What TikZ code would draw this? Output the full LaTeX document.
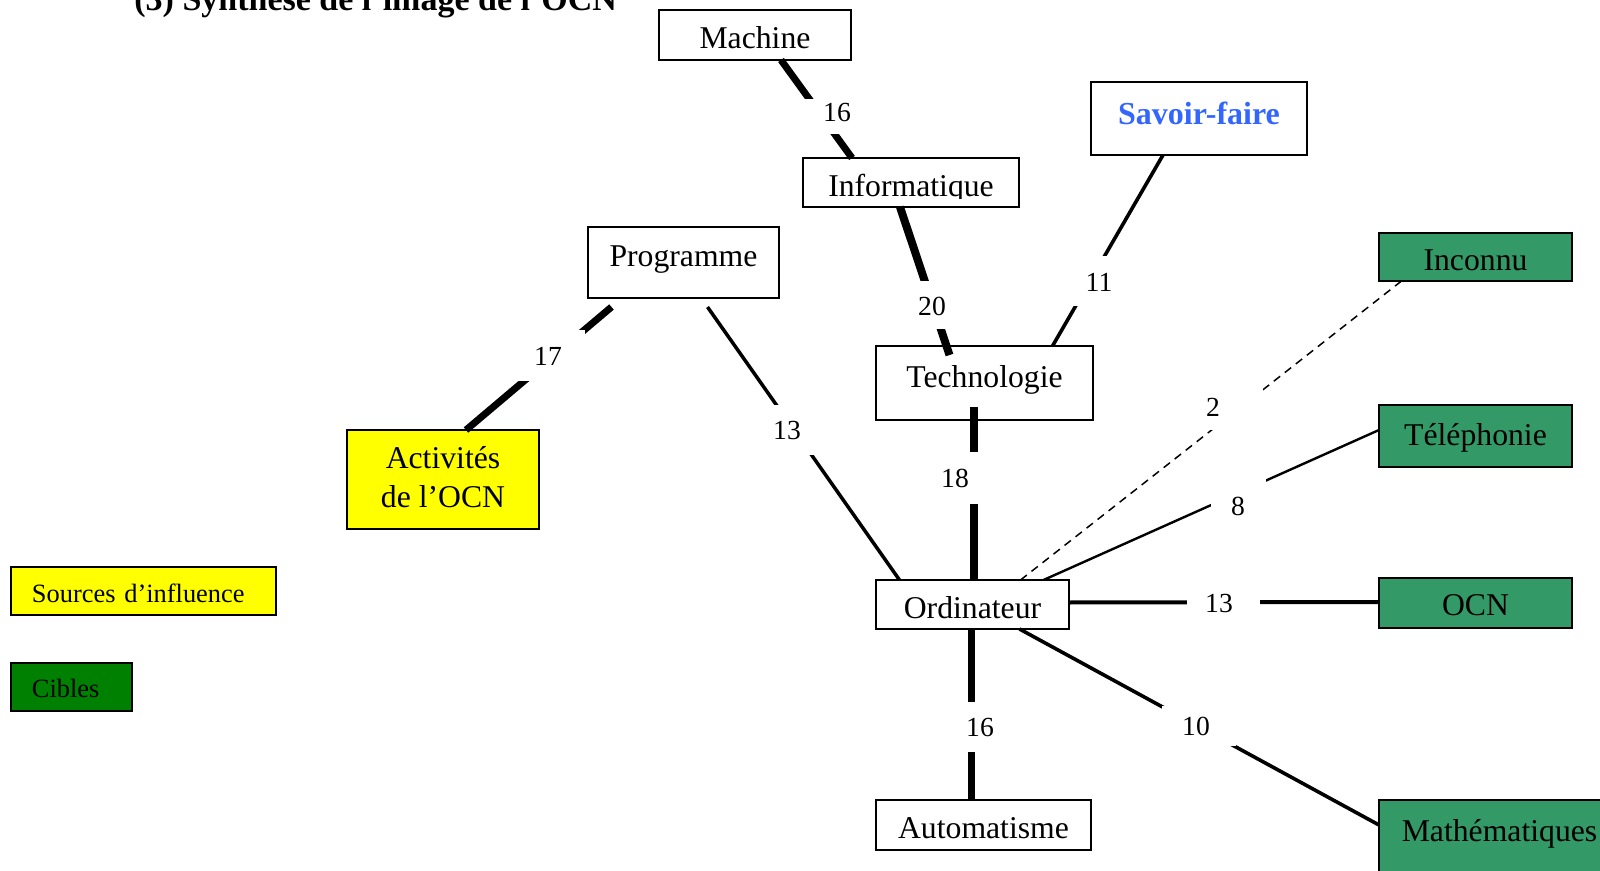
\documentclass[tikz,border=0pt]{standalone}
\usepackage{fontspec}
\setmainfont{Liberation Serif}
\usetikzlibrary{calc}
\definecolor{cgreen}{HTML}{339966}
\definecolor{lgreen}{HTML}{008000}
\definecolor{cyellow}{HTML}{FFFF00}
\definecolor{cblue}{HTML}{3366FF}
\newcommand\nodefont{\fontsize{15.85}{19.5}\selectfont}
\newcommand\numfont{\fontsize{13.8}{16}\selectfont}
\newcommand\legfont{\fontsize{13.2}{15}\selectfont}
\begin{document}
\begin{tikzpicture}[x=0.5pt,y=-0.5pt,
  box/.style={draw=black, line width=0.8pt, fill=white, inner sep=0pt, outer sep=0pt, anchor=north, font=\nodefont},
  target/.style={box, fill=cgreen},
  legend/.style={draw=black, line width=0.8pt, inner ysep=0pt, inner xsep=10.5pt, outer sep=0pt, anchor=north west, align=left, font=\legfont},
  gap/.style={fill=white, inner sep=0pt, font=\numfont},
  w20/.style={line width=4pt},
  w18/.style={line width=3.7pt},
  w17/.style={line width=3.5pt},
  w16/.style={line width=3.5pt},
  w13/.style={line width=1.9pt},
  w11/.style={line width=1.8pt},
  w10/.style={line width=1.8pt},
  w8/.style={line width=1.2pt},
  w2/.style={line width=0.75pt, dash pattern=on 4pt off 3pt}
]
\useasboundingbox (0,0) rectangle (1600,871);

% title (cut by the top edge)
\node[anchor=base west, inner sep=0pt, font=\fontsize{17}{20}\selectfont\bfseries] (title) at (134,11) {(3) Synthèse de l’image de l’OCN};

% boxes
\node[box, minimum width=96pt, text height=19.5pt, text depth=5.5pt] (mach) at (755,10) {Machine};
\node[box, minimum width=108pt, minimum height=24.5pt] (info) at (911,158) {};
\begin{scope}
  \clip (info.north west) rectangle ($(info.south east)+(0,-8)$);
  \node[anchor=base, inner sep=0pt, font=\nodefont] (infot) at (911,197) {Informatique};
\end{scope}
\node[box, minimum width=108pt, text height=21.5pt, text depth=15pt, font=\fontsize{16}{19}\selectfont\bfseries, text=cblue] (sav) at (1199,82) {Savoir-faire};
\node[box, minimum width=95.5pt, text height=20pt, text depth=15.5pt] (prog) at (683.5,227) {Programme};
\node[box, fill=cyellow, minimum width=96pt, text height=38.5pt, text depth=11pt] (act) at (443,430) {\begin{tabular}[b]{@{}c@{}}Activités\\de l’OCN\end{tabular}};
\node[box, minimum width=108.5pt, text height=20.5pt, text depth=16.5pt] (tech) at (984.5,346) {Technologie};
\node[box, minimum width=96.5pt, text height=19pt, text depth=5.5pt] (ordi) at (972.5,580) {Ordinateur};
\node[box, minimum width=107.5pt, minimum height=25pt] (auto) at (983.5,800) {};
\begin{scope}
  \clip (auto.north west) rectangle ($(auto.south east)+(0,-11)$);
  \node[anchor=base, inner sep=0pt, font=\nodefont] (autot) at (983.5,838) {Automatisme};
\end{scope}
\node[target, minimum width=96.5pt, text height=19pt, text depth=5pt] (inc) at (1475.5,233) {Inconnu};
\node[target, minimum width=96.5pt, text height=20pt, text depth=11pt] (tel) at (1475.5,405) {Téléphonie};
\node[target, minimum width=96.5pt, text height=18.5pt, text depth=6.5pt] (ocn) at (1475.5,578) {OCN};
\node[target, minimum width=120.5pt, text height=20.5pt, text depth=29.5pt] (math) at (1499.5,800) {Mathématiques};

% legend
\node[legend, fill=cyellow, text width=111.5pt, text height=17.5pt, text depth=6.5pt] (src) at (11,567) {Sources d’influence};
\node[legend, fill=lgreen, text width=39.5pt, text height=17pt, text depth=7pt] (cib) at (11,663) {Cibles};

% connectors
\draw[w16] ($(mach.south)+(26,0)$) -- ($(info.north)+(-59,0)$);
\draw[w20] ($(info.south)+(-11,0)$) -- ($(tech.north)+(-35,9)$);
\draw[w11] ($(sav.south)+(-36,0)$) -- ($(tech.north)+(68,0)$);
\draw[w17] ($(prog.south)+(-72,9)$) -- ($(act.north)+(23,0)$);
\draw[w13, line width=1.75pt] ($(prog.south)+(24,9)$) -- ($(ordi.north)+(-73,0)$);
\draw[w18] ($(tech.south)+(-10.5,-13)$) -- ($(ordi.north)+(1.5,0)$);
\draw[w2] ($(ordi.north)+(48,0)$) -- ($(inc.south)+(-74,0)$);
\draw[w8] ($(ordi.north)+(71,0)$) -- ($(tel.west)+(0,-6)$);
\draw[w13, line width=2pt] ($(ordi.east)+(0,-2)$) -- ($(ocn.west)+(0,-1)$);
\draw[w16] ($(ordi.south)+(-1.5,0)$) -- ($(auto.north)+(-12.5,0)$);
\draw[w10] ($(ordi.south)+(47,0)$) -- ($(math.west)+(0,-25)$);

% weights
\node[gap, minimum width=37pt, minimum height=17.5pt, text height=4.9pt, text depth=0pt] (g1) at (837,116.5) {16};
\node[gap, minimum width=37pt, minimum height=24pt, text height=10.4pt, text depth=0pt] (g2) at (932,305) {20};
\node[gap, minimum width=37pt, minimum height=25pt, text height=10.4pt, text depth=0pt] (g3) at (1099,281) {11};
\node[gap, minimum width=37pt, minimum height=25.5pt] (g4) at (548,356) {17};
\node[gap, minimum width=37pt, minimum height=24.5pt] (g5) at (787,430) {13};
\node[gap, minimum width=37pt, minimum height=26pt] (g6) at (955,478) {18};
\node[gap, minimum width=43pt, minimum height=21pt, text height=7.4pt, text depth=0pt] (g7) at (1220,409) {2\hspace*{7pt}};
\node[gap, minimum width=27.5pt, minimum height=24pt, text height=21.4pt, text depth=0pt] (g8) at (1238,494) {8};
\node[gap, minimum width=36.5pt, minimum height=24pt] (g9) at (1223.5,603) {13\hspace*{4.5pt}};
\node[gap, minimum width=37pt, minimum height=25pt] (g10) at (980,727) {16};
\node[gap, minimum width=37pt, minimum height=20pt] (g11) at (1199,726) {10\hspace*{3pt}};
\end{tikzpicture}
\end{document}
